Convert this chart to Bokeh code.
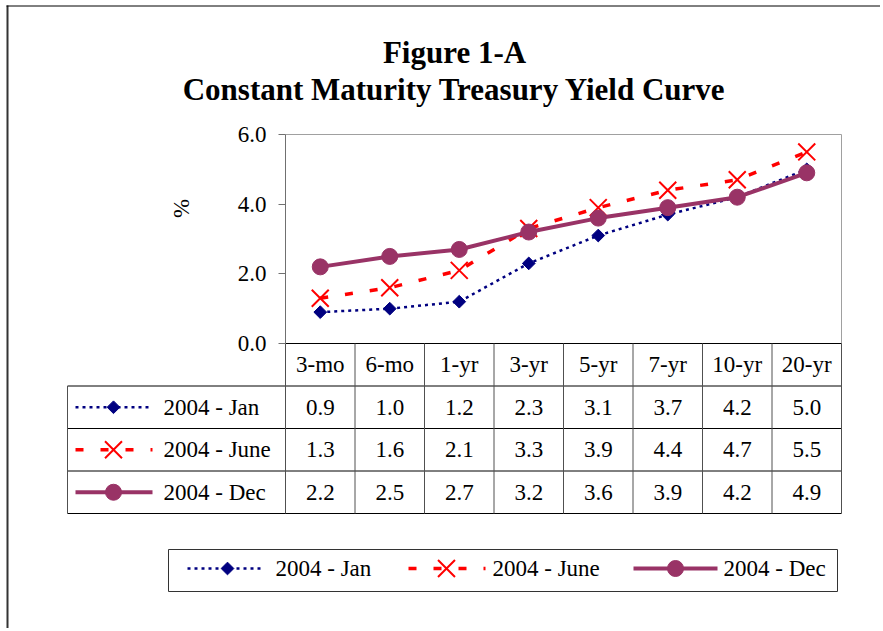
import numpy as np
from bokeh.plotting import figure
from bokeh.models import Range1d, FixedTicker, LinearAxis, PrintfTickFormatter
from bokeh.core.properties import value
from bokeh.embed import file_html
from bokeh.resources import INLINE

# ---------------- data ----------------
categories = ["3-mo", "6-mo", "1-yr", "3-yr", "5-yr", "7-yr", "10-yr", "20-yr"]
series_names = ["2004 - Jan", "2004 - June", "2004 - Dec"]
jan = [0.9, 1.0, 1.2, 2.3, 3.1, 3.7, 4.2, 5.0]
june = [1.3, 1.6, 2.1, 3.3, 3.9, 4.4, 4.7, 5.5]
dec = [2.2, 2.5, 2.7, 3.2, 3.6, 3.9, 4.2, 4.9]
y_ticks = [0, 2, 4, 6]
title_lines = ["Figure 1-A", "Constant Maturity Treasury Yield Curve"]
y_label = "%"

all_series = [jan, june, dec]

# ---------------- styles ----------------
NAVY, RED, PLUM = "#000080", "#FF0000", "#993366"
styles = [
    dict(color=NAVY, lw=2.5, dash="3 4", marker="square", size=9, angle=np.pi / 4, mlw=1),
    dict(color=RED, lw=3.5, dash="8 17", marker="x", size=24, angle=0.0, mlw=2),
    dict(color=PLUM, lw=4, dash="solid", marker="circle", size=16, angle=0.0, mlw=1),
]
FONT_NAME = "Liberation Serif"
FONT = value(FONT_NAME)
FS = "23px"

# ---------------- layout (canvas pixel positions) ----------------
W, H = 880, 628
PLOT_L, PLOT_R, PLOT_T, PLOT_B = 285, 841, 134, 343
n, m = len(categories), len(all_series)
COLW = (PLOT_R - PLOT_L) / n          # px per category
ROWH = 42.5                           # px per table row
UP = (PLOT_B - PLOT_T) / (y_ticks[-1] - y_ticks[0])   # px per percent


def fx(rx):
    return (rx - PLOT_L) / COLW


def fy(ry):
    return -(ry - PLOT_B) / ROWH


p = figure(width=W, height=H, x_range=Range1d(fx(0), fx(W)), y_range=Range1d(fy(H), fy(0)),
           min_border=0, x_axis_location=None, y_axis_location=None,
           outline_line_color=None, toolbar_location=None, output_backend="svg",
           background_fill_color="white", border_fill_color="white")
p.extra_y_ranges = {"pct": Range1d((PLOT_B - H) / UP, PLOT_B / UP)}
p.xgrid.visible = False
p.ygrid.visible = False

# outer frame
p.segment(x0=[fx(7)], x1=[fx(7)], y0=[fy(5)], y1=[fy(H + 5)], line_color="#333333", line_width=2)
p.segment(x0=[fx(6)], x1=[fx(W + 5)], y0=[fy(5.5)], y1=[fy(5.5)], line_color="black", line_width=1)

# title
p.text(x=[fx(454)] * 2, y=[fy(52), fy(88.5)], text=title_lines,
       text_font=FONT, text_font_style="bold", text_font_size="31px",
       text_align="center", text_baseline="alphabetic", text_color="black")

# plot-area border (top/right grey)
p.segment(x0=[0, n], x1=[n, n], y0=[y_ticks[-1], y_ticks[-1]], y1=[y_ticks[-1], 0],
          line_color="#a0a0a0", line_width=1, y_range_name="pct")

# y axis at the plot's left edge
ax = LinearAxis(y_range_name="pct", fixed_location=0, bounds=(y_ticks[0], y_ticks[-1]),
                ticker=FixedTicker(ticks=y_ticks), formatter=PrintfTickFormatter(format="%.1f"),
                major_tick_out=7, major_tick_in=0, minor_tick_out=0, minor_tick_in=0,
                axis_line_color="#707070", major_tick_line_color="#707070",
                major_label_standoff=12, major_label_text_font=FONT_NAME,
                major_label_text_font_size=FS, major_label_text_color="black")
p.add_layout(ax, "left")
pct_axis = LinearAxis(y_range_name="pct", fixed_location=0, axis_label=y_label, bounds=(1.76, 6.0),
                      ticker=FixedTicker(ticks=[]), axis_line_color=None,
                      major_tick_line_color=None, minor_tick_line_color=None,
                      major_tick_out=0, major_tick_in=0, minor_tick_out=0, minor_tick_in=0,
                      major_label_text_font_size="0px", axis_label_standoff=92,
                      axis_label_text_font=FONT_NAME, axis_label_text_font_style="normal",
                      axis_label_text_font_size=FS, axis_label_text_color="black")
p.add_layout(pct_axis, "left")

# series
xc = [i + 0.5 for i in range(n)]
for vals, st in zip(all_series, styles):
    p.line(xc, vals, line_color=st["color"], line_width=st["lw"], line_dash=st["dash"],
           y_range_name="pct")
    p.scatter(xc, vals, marker=st["marker"], size=st["size"], angle=st["angle"],
              fill_color=st["color"], line_color=st["color"], line_width=st["mlw"],
              y_range_name="pct")

# ---------------- data table ----------------
LEG_L = fx(67)
p.segment(x0=[0], x1=[n], y0=[0], y1=[0], line_color="black", line_width=1)
p.segment(x0=[LEG_L] * (m + 1), x1=[n] * (m + 1), y0=[-(k + 1) for k in range(m + 1)],
          y1=[-(k + 1) for k in range(m + 1)], line_color="black", line_width=1)
p.segment(x0=list(range(n + 1)) + [LEG_L], x1=list(range(n + 1)) + [LEG_L],
          y0=[0] * (n + 1) + [-1], y1=[-(m + 1)] * (n + 2),
          line_color="#505050", line_width=1)

p.text(x=xc, y=[-0.5] * n, text=categories, text_font=FONT,
       text_font_size=FS, text_align="center", text_baseline="middle", text_color="black")
vx, vy, vt = [], [], []
for k, vals in enumerate(all_series):
    for i, v in enumerate(vals):
        vx.append(i + 0.5)
        vy.append(-(k + 1.5))
        vt.append(f"{v:.1f}")
p.text(x=vx, y=vy, text=vt, text_font=FONT, text_font_size=FS, text_align="center",
       text_baseline="middle", text_color="black")

p.text(x=[fx(163)] * m, y=[-(k + 1.5) for k in range(m)], text=series_names, text_font=FONT,
       text_font_size=FS, text_align="left", text_baseline="middle", text_color="black")


def sample(x0, x1, xm, y, st):
    p.line([x0, x1], [y, y], line_color=st["color"], line_width=st["lw"], line_dash=st["dash"])
    p.scatter([xm], [y], marker=st["marker"], size=st["size"], angle=st["angle"],
              fill_color=st["color"], line_color=st["color"], line_width=st["mlw"])


for k, st in enumerate(styles):
    sample(fx(75), fx(152), fx(113), -(k + 1.5), st)

# ---------------- legend ----------------
p.quad(left=[fx(168)], right=[fx(837)], top=[fy(549)], bottom=[fy(591)],
       fill_color="white", line_color="#333333", line_width=1)
leg_pos = [(187, 263, 227, 275), (408, 485, 446, 492), (633, 717, 675, 723)]
for (a, b, c, t), st in zip(leg_pos, styles):
    sample(fx(a), fx(b), fx(c), fy(568), st)
p.text(x=[fx(q[3]) for q in leg_pos], y=[fy(567.5)] * m, text=series_names, text_font=FONT,
       text_font_size=FS, text_align="left", text_baseline="middle", text_color="black")

open("out.html", "w").write(file_html(p, INLINE))
